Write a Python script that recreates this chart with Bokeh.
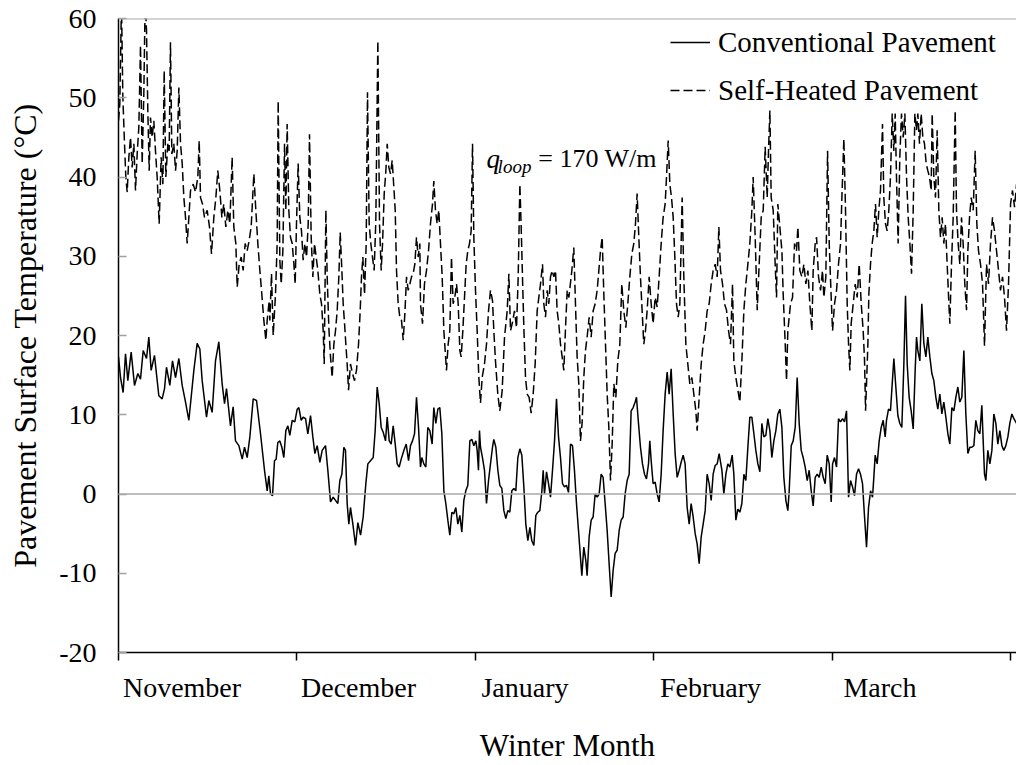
from bokeh.plotting import figure
from bokeh.models import Range1d, FixedTicker, Span, Label, Legend, LegendItem
from bokeh.embed import file_html
from bokeh.resources import INLINE

FONT = "Liberation Serif"

# x unit: days from 1 November, each month tick drawn 30 units apart (as in the source axis)
month_names = ["November", "December", "January", "February", "March"]
month_start_day = [0, 30, 60, 90, 120, 150]
month_label_day = [10.68, 40.36, 68.35, 99.55, 128.05]
y_ticks = [-20, -10, 0, 10, 20, 30, 40, 50, 60]

# Conventional pavement surface temperature (day, degC)
conv_pts = [
    (0.00, 17.3), (0.34, 14.7), (0.78, 12.8), (1.18, 17.7), (1.57, 14.3), (2.13, 17.9), (2.69, 13.7),
    (3.25, 15.2), (3.70, 14.5), (4.15, 18.1), (4.71, 17.1), (5.10, 19.8), (5.49, 15.6), (6.05, 17.5),
    (6.78, 12.4), (7.34, 12.0), (7.74, 13.3), (8.07, 16.0), (8.63, 13.7), (9.08, 16.8), (9.59, 14.7),
    (10.15, 17.1), (10.71, 13.7), (11.27, 11.6), (11.83, 9.3), (12.67, 15.6), (13.23, 19.0), (13.68, 18.3),
    (14.07, 14.3), (14.80, 9.7), (15.19, 11.8), (15.75, 10.3), (16.31, 16.8), (16.87, 19.2), (17.43, 13.9),
    (17.83, 11.4), (18.16, 13.3), (18.83, 8.6), (19.28, 11.0), (19.67, 6.7), (20.24, 6.1), (20.80, 4.4),
    (21.19, 5.9), (21.64, 4.6), (22.09, 7.2), (22.65, 12.0), (23.21, 11.8), (23.88, 7.6), (24.55, 3.0),
    (25.00, 0.4), (25.28, 2.3), (25.56, 0.0),
    (25.90, -0.2), (26.23, 4.2), (26.51, 4.4), (26.79, 6.5), (27.13, 6.7), (27.47, 5.9), (27.80, 4.6),
    (28.14, 8.0), (28.48, 8.6), (28.81, 7.4), (29.21, 9.3), (29.65, 9.1), (30.05, 10.7), (30.33, 10.9),
    (30.72, 9.3), (31.05, 9.7), (31.45, 9.5), (31.84, 7.6), (32.29, 9.9), (32.68, 7.2), (33.02, 5.1),
    (33.41, 6.1), (33.86, 4.0), (34.25, 5.5), (34.81, 6.1), (35.20, 3.0), (35.65, -1.0), (36.10, -0.4),
    (36.49, -0.8), (36.88, -1.2), (37.22, 1.7), (37.56, 2.5), (37.89, 5.9), (38.17, 5.5), (38.45, -1.2),
    (38.73, -3.8), (39.01, -1.7), (39.41, -3.8), (39.86, -6.5), (40.25, -3.6), (40.70, -5.2), (41.14, -2.9),
    (41.59, 1.3), (41.93, 3.8), (42.38, 4.2), (42.83, 4.6), (43.16, 8.0), (43.50, 13.5), (43.84, 11.4),
    (44.17, 8.4), (44.51, 7.8), (44.90, 6.7), (45.18, 9.7), (45.52, 6.7), (45.85, 6.3), (46.19, 8.6),
    (46.53, 6.3), (46.86, 3.8), (47.20, 3.4), (47.54, 4.4), (47.98, 5.5), (48.38, 6.3), (48.77, 4.2),
    (49.10, 6.1), (49.44, 6.7), (49.78, 7.6), (50.11, 12.2), (50.45, 8.4), (50.78, 3.4),
    (51.01, 4.6), (51.34, 3.8), (51.68, 3.4), (52.01, 8.4), (52.35, 8.0), (52.74, 6.3), (53.02, 10.9),
    (53.36, 8.9), (53.70, 10.7), (54.03, 10.9), (54.37, 7.6), (54.71, 0.4), (55.04, -1.2), (55.38, -3.3),
    (55.71, -5.2), (56.05, -2.3), (56.39, -2.5), (56.72, -1.7), (57.06, -3.8), (57.40, -2.7), (57.73, -4.8),
    (58.07, -0.8), (58.40, 0.4), (58.74, 1.1), (59.08, 6.7), (59.41, 6.9), (59.75, 6.1), (60.09, 6.7),
    (60.31, 5.5), (60.53, 3.0), (60.70, 8.0), (60.87, 5.9), (61.20, 4.6), (61.54, 3.0), (61.88, -1.2),
    (62.22, 1.7), (62.55, 3.8), (62.89, 5.9), (63.11, 6.9), (63.45, 5.9), (63.79, 3.0), (64.12, 1.1),
    (64.46, 0.7), (64.80, -2.1), (65.13, -3.1), (65.47, -2.1), (65.80, -2.3), (66.14, 0.4), (66.48, 0.7),
    (66.81, 0.4), (67.15, 4.6), (67.49, 5.7), (67.82, 4.9), (68.16, 0.9), (68.49, -3.8), (68.83, -5.9),
    (69.17, -4.2), (69.50, -5.9), (69.84, -6.5), (70.18, -2.7), (70.51, -2.3), (70.85, -2.1), (71.19, 0.4),
    (71.41, 3.0), (71.63, 0.0), (71.97, 2.8), (72.31, 1.3), (72.64, -0.4), (72.98, 3.0), (73.32, 6.7),
    (73.65, 12.0), (73.99, 7.2), (74.32, 4.6), (74.66, 1.3), (74.99, 0.9), (75.33, 1.1), (75.67, 0.2),
    (76.01, 6.3),
    (76.34, 6.1), (76.67, 3.0), (77.01, -1.2), (77.35, -4.6), (77.68, -8.0), (77.91, -10.3), (78.24, -6.7),
    (78.58, -8.4), (78.80, -10.3), (79.14, -5.4), (79.48, -3.3), (79.81, -2.9), (80.15, 0.0), (80.49, -0.4),
    (80.82, 0.0), (81.16, 2.5), (81.49, 2.1), (81.83, -1.2), (82.17, -4.6), (82.50, -8.8), (82.84, -13.0),
    (83.18, -9.6), (83.51, -7.5), (83.85, -7.1), (84.19, -4.6), (84.52, -3.3), (84.86, -2.9), (85.19, 0.0),
    (85.53, 1.7), (85.87, 2.5), (86.20, 10.5), (86.54, 10.9), (86.88, 11.6), (87.10, 12.2), (87.44, 8.9),
    (87.77, 5.9), (88.11, 3.8), (88.45, 2.5), (88.78, 1.9), (89.12, 3.8), (89.34, 6.7), (89.57, 4.2),
    (89.90, 1.3), (90.24, 1.5), (90.58, 0.0), (90.91, -1.0), (91.25, 2.5), (91.58, 8.0), (91.92, 12.6),
    (92.26, 15.4), (92.59, 12.6), (92.93, 15.8), (93.27, 10.1), (93.60, 5.1), (93.94, 2.1), (94.28, 3.0),
    (94.61, 4.0), (94.95, 4.9), (95.28, 3.8), (95.62, -1.7), (95.96, -3.8), (96.29, -1.2), (96.63, -2.9),
    (96.97, -5.0), (97.30, -6.3), (97.64, -8.8), (97.98, -5.4), (98.31, -3.8), (98.65, -2.1), (98.98, 2.5),
    (99.32, 1.3), (99.66, -0.8), (99.99, 2.5), (100.33, 3.6), (100.67, 3.8), (101.00, 5.1),
    (101.46, 3.0), (101.79, 0.0), (102.13, 2.5), (102.46, 3.8), (102.80, 3.4), (103.19, 4.9), (103.47, 2.5),
    (103.81, -3.3), (104.15, -1.9), (104.48, -2.3), (104.82, -1.2), (105.16, 2.5), (105.49, 1.7), (105.83, 5.9),
    (106.16, 9.7), (106.50, 9.7), (106.84, 7.6), (107.17, 5.5), (107.51, 3.8), (107.85, 2.8), (108.18, 8.9),
    (108.52, 7.2), (108.85, 7.4), (109.19, 9.5), (109.53, 8.0), (109.86, 4.6), (110.20, 6.7), (110.54, 8.0),
    (110.87, 10.1), (111.21, 10.7), (111.55, 8.4), (111.88, 2.1), (112.22, -0.8), (112.55, -2.1), (112.78, 0.4),
    (113.12, 6.1), (113.45, 6.7), (113.79, 8.4), (114.12, 14.7), (114.46, 8.9), (114.80, 5.5), (115.13, 4.6),
    (115.47, 3.4), (115.81, 1.7), (116.14, 3.0), (116.48, 0.4), (116.81, -1.5), (117.15, 2.1), (117.49, 2.5),
    (117.82, 2.1), (118.16, 3.4), (118.50, 2.1), (118.83, 1.3), (119.17, 4.9), (119.51, 3.8), (119.84, -1.0),
    (120.07, 3.8), (120.40, 4.6), (120.74, 3.4), (121.07, 9.5), (121.41, 9.1), (121.75, 9.5), (122.08, 9.1),
    (122.42, 10.5), (122.76, -0.4), (123.09, 1.7), (123.43, 0.9), (123.76, -0.2), (124.10, 2.5), (124.44, 3.2),
    (124.77, 2.5), (125.11, 1.3), (125.45, -2.9), (125.78, -6.7), (126.12, -1.7), (126.46, 0.4),
    (126.79, -0.4), (127.01, 2.1), (127.24, 4.9), (127.57, 3.8), (127.91, 6.7), (128.25, 8.4), (128.58, 9.3),
    (128.92, 7.2), (129.14, 9.3), (129.48, 10.7), (129.81, 10.5), (130.10, 13.9), (130.38, 17.1), (130.71, 13.5),
    (131.05, 9.9), (131.38, 8.9), (131.72, 8.4), (132.06, 16.4), (132.34, 25.0), (132.62, 16.4), (132.95, 12.2),
    (133.29, 10.5), (133.63, 8.2), (133.96, 15.6), (134.19, 19.8), (134.41, 18.1), (134.75, 16.8), (135.08, 24.0),
    (135.42, 19.0), (135.76, 17.3), (136.09, 19.8), (136.43, 17.3), (136.77, 15.2), (137.10, 14.3), (137.44, 12.2),
    (137.77, 10.7), (138.11, 12.6), (138.45, 10.1), (138.78, 11.6), (139.12, 9.7), (139.46, 7.6), (139.79, 6.3),
    (140.13, 10.9), (140.47, 10.5), (140.80, 12.2), (141.14, 13.5), (141.47, 11.6), (141.81, 12.2), (142.15, 18.1),
    (142.48, 10.1), (142.82, 5.1), (143.16, 5.9), (143.49, 5.9), (143.83, 6.1), (144.16, 9.3), (144.50, 8.0),
    (144.84, 7.6), (145.17, 11.2), (145.40, 6.7), (145.62, 2.5), (145.85, 1.7), (146.18, 5.5), (146.52, 3.8),
    (146.86, 5.5), (147.19, 10.1), (147.53, 8.9), (147.86, 6.3), (148.20, 8.0), (148.54, 6.1), (148.87, 5.5),
    (149.21, 6.1), (149.55, 7.2), (149.88, 8.9), (150.22, 10.1), (150.56, 9.5), (151.01, 8.9),
]

# Self-heated pavement surface temperature (day, degC)
heat_pts = [
    (0.00, 47.1), (0.22, 49.2), (0.50, 62.0), (0.73, 50.1), (1.01, 44.2), (1.23, 40.0), (1.46, 38.1),
    (1.74, 42.5), (2.02, 45.0), (2.30, 41.2), (2.58, 44.2), (2.86, 38.3), (3.14, 42.9), (3.42, 46.3),
    (3.70, 56.6), (3.98, 41.7), (4.26, 50.5), (4.48, 62.0), (4.71, 58.5), (4.93, 48.4), (5.16, 40.8),
    (5.38, 47.5), (5.66, 45.0), (5.94, 47.1), (6.22, 43.3), (6.50, 40.0), (6.84, 34.1), (7.17, 42.5),
    (7.46, 39.1), (7.68, 53.4), (7.96, 40.0), (8.30, 44.2), (8.52, 43.3), (8.74, 57.0), (8.97, 42.9),
    (9.30, 44.2), (9.59, 40.8), (9.87, 43.3), (10.15, 51.3), (10.43, 44.2), (10.71, 41.7), (10.99, 37.4),
    (11.27, 34.9), (11.55, 31.6), (11.83, 34.9), (12.11, 38.3), (12.56, 39.1), (12.95, 38.1), (13.34, 40.0),
    (13.57, 44.6), (13.79, 37.4), (14.13, 36.6), (14.46, 34.9), (14.91, 35.8), (15.30, 33.7), (15.64, 30.3),
    (16.03, 34.9), (16.37, 37.4), (16.70, 40.8), (17.04, 38.3), (17.38, 34.9), (17.71, 36.6), (18.05, 33.7),
    (18.39, 35.8), (18.72, 34.1), (19.11, 42.5), (19.39, 33.7), (19.73, 31.6), (19.96, 26.1), (20.29, 29.0),
    (20.63, 29.9), (20.96, 28.2), (21.30, 31.6), (21.64, 30.7), (21.97, 32.0), (22.31, 33.7), (22.76, 40.4),
    (23.09, 35.8), (23.43, 31.6), (23.77, 28.2), (24.10, 25.2), (24.44, 21.9), (24.78, 19.4), (25.00, 21.9),
    (25.34, 24.4),
    (25.45, 21.9), (25.73, 27.8), (26.01, 20.0), (26.40, 25.2), (26.68, 31.6), (26.85, 49.6), (27.13, 29.5),
    (27.36, 26.5), (27.64, 30.7), (27.92, 44.2), (28.14, 35.8), (28.36, 46.7), (28.64, 35.8), (28.92, 32.4),
    (29.21, 31.6), (29.49, 29.0), (29.71, 26.5), (29.93, 34.1), (30.21, 41.7), (30.49, 34.9), (30.77, 33.2),
    (31.05, 29.5), (31.34, 31.6), (31.62, 29.9), (31.90, 34.1), (32.12, 45.4), (32.40, 32.4), (32.68, 27.4),
    (32.96, 31.6), (33.24, 29.9), (33.52, 28.2), (33.86, 25.2), (34.14, 24.0), (34.42, 20.6), (34.59, 16.4),
    (34.87, 35.8), (35.09, 27.4), (35.37, 21.0), (35.65, 17.3), (35.93, 14.7), (36.21, 18.9), (36.49, 20.6),
    (36.77, 23.1), (37.05, 27.4), (37.28, 33.0), (37.56, 28.2), (37.78, 24.0), (38.01, 21.5), (38.23, 18.9),
    (38.45, 16.4), (38.68, 13.1), (39.01, 16.4), (39.35, 15.2), (39.69, 14.3), (40.02, 15.6), (40.36, 18.9),
    (40.64, 23.1), (40.86, 27.4), (41.09, 29.9), (41.37, 25.2), (41.65, 31.6), (41.87, 50.7), (42.15, 34.1),
    (42.43, 31.6), (42.71, 29.9), (42.99, 28.2), (43.27, 34.5), (43.61, 57.2), (43.89, 34.1), (44.17, 28.2),
    (44.40, 31.6), (44.68, 37.9), (44.96, 40.8), (45.18, 44.2), (45.46, 41.2), (45.74, 40.4), (46.02, 42.1),
    (46.30, 38.7), (46.53, 35.8), (46.75, 28.2), (47.03, 24.0), (47.31, 22.3), (47.59, 21.9), (47.87, 19.4),
    (48.15, 22.7), (48.43, 27.4), (48.71, 25.7), (48.99, 26.5), (49.27, 27.4), (49.55, 27.8), (49.83, 29.0),
    (50.11, 32.4), (50.39, 29.9), (50.67, 31.6),
    (50.78, 24.0), (51.12, 21.5), (51.45, 26.5), (51.79, 28.2), (52.13, 30.7), (52.46, 34.1), (52.80, 36.6),
    (53.02, 39.5), (53.30, 35.8), (53.58, 34.1), (53.86, 35.8), (54.14, 31.6), (54.43, 27.4), (54.71, 20.6),
    (54.93, 18.1), (55.15, 15.6), (55.43, 18.9), (55.71, 20.6), (55.99, 29.9), (56.27, 24.0), (56.55, 24.8),
    (56.84, 26.5), (57.12, 24.0), (57.40, 18.1), (57.62, 17.3), (57.90, 20.6), (58.18, 24.8), (58.46, 29.0),
    (58.74, 30.7), (59.02, 31.6), (59.30, 33.2), (59.53, 44.2), (59.75, 32.4), (60.03, 25.7), (60.31, 20.6),
    (60.59, 14.7), (60.87, 11.5), (61.15, 14.7), (61.54, 16.4), (61.88, 18.9), (62.22, 23.1), (62.55, 25.7),
    (62.89, 24.4), (63.11, 20.6), (63.39, 16.8), (63.79, 12.5), (64.12, 10.5), (64.51, 13.0), (64.91, 19.8),
    (65.36, 23.1), (65.64, 27.8), (65.92, 20.6), (66.20, 21.5), (66.59, 23.1), (66.93, 21.0), (67.21, 27.4),
    (67.49, 39.1), (67.71, 33.7), (67.93, 27.4), (68.16, 21.0), (68.44, 14.7), (68.72, 12.6), (69.05, 12.2),
    (69.39, 10.2), (69.73, 12.6), (70.06, 16.4), (70.40, 23.1), (70.68, 24.8), (70.96, 26.5), (71.30, 29.0),
    (71.52, 24.0), (71.80, 22.3), (72.08, 25.7), (72.36, 24.0), (72.64, 27.4), (72.92, 28.2), (73.20, 27.4),
    (73.48, 28.2), (73.76, 23.1), (74.04, 21.5), (74.32, 18.9), (74.60, 17.3), (74.88, 15.6), (75.17, 21.0),
    (75.45, 25.7), (75.73, 24.8),
    (76.23, 28.2), (76.56, 31.1), (76.84, 24.0), (77.12, 17.3), (77.40, 13.9), (77.68, 6.7), (77.96, 9.0),
    (78.24, 14.7), (78.52, 18.1), (78.80, 19.8), (79.14, 22.3), (79.48, 19.8), (79.81, 23.1), (80.15, 24.0),
    (80.49, 25.7), (80.77, 28.2), (81.05, 30.7), (81.33, 32.4), (81.61, 25.2), (81.89, 18.9), (82.17, 12.6),
    (82.45, 8.4), (82.73, 1.7), (83.01, 6.3), (83.29, 13.9), (83.63, 12.2), (83.96, 16.8), (84.30, 18.9),
    (84.63, 26.5), (84.97, 23.1), (85.31, 21.0), (85.64, 24.0), (85.98, 27.4), (86.32, 30.3), (86.65, 31.6),
    (86.93, 34.1), (87.21, 37.9), (87.49, 32.4), (87.77, 27.4), (88.05, 23.1), (88.33, 18.9), (88.61, 20.6),
    (88.89, 23.1), (89.23, 27.4), (89.57, 24.0), (89.90, 21.5), (90.24, 24.8), (90.58, 23.6), (90.91, 27.4),
    (91.25, 31.6), (91.58, 34.9), (91.92, 36.6), (92.15, 40.0), (92.43, 44.6), (92.71, 39.1), (92.99, 37.4),
    (93.27, 34.9), (93.55, 29.9), (93.83, 24.0), (94.11, 22.3), (94.39, 24.0), (94.78, 37.4), (95.06, 27.4),
    (95.40, 18.9), (95.73, 16.4), (96.07, 13.9), (96.41, 14.7), (96.74, 12.6), (97.08, 10.5), (97.30, 8.0),
    (97.64, 12.2), (97.98, 16.4), (98.31, 18.9), (98.65, 20.6), (98.98, 23.1), (99.32, 24.0), (99.66, 26.5),
    (99.99, 28.2), (100.33, 29.0), (100.67, 27.4), (100.95, 33.7),
    (101.23, 28.2), (101.57, 26.5), (101.90, 24.0), (102.24, 23.2), (102.58, 20.6), (102.91, 18.9), (103.25, 26.5),
    (103.47, 16.8), (103.81, 14.7), (104.15, 13.1), (104.48, 11.6), (104.82, 16.8), (105.16, 23.2), (105.49, 26.5),
    (105.83, 29.0), (106.16, 31.6), (106.50, 35.8), (106.72, 40.0), (107.06, 32.4), (107.40, 23.2), (107.73, 29.0),
    (108.07, 34.9), (108.41, 35.8), (108.74, 43.8), (109.08, 37.4), (109.30, 43.3), (109.53, 48.4), (109.75, 37.4),
    (110.09, 35.8), (110.42, 29.0), (110.65, 24.8), (110.87, 36.6), (111.21, 33.7), (111.55, 30.7), (111.77, 25.2),
    (112.11, 18.9), (112.33, 14.3), (112.55, 20.6), (112.78, 22.3), (113.00, 24.0), (113.34, 24.8), (113.68, 31.6),
    (114.01, 30.7), (114.24, 33.7), (114.57, 28.2), (114.91, 27.4), (115.25, 29.0), (115.58, 26.5), (115.92, 28.2),
    (116.25, 24.0), (116.59, 20.6), (116.81, 28.2), (117.15, 31.6), (117.38, 32.4), (117.71, 27.4), (118.05, 25.7),
    (118.38, 28.2), (118.61, 24.8), (118.94, 27.4), (119.23, 43.3), (119.51, 31.6), (119.84, 24.8), (120.07, 20.6),
    (120.40, 24.0), (120.74, 25.7), (121.07, 29.0), (121.41, 31.6), (121.64, 37.4), (121.97, 44.8), (122.25, 35.8),
    (122.53, 24.0), (122.76, 18.9), (122.98, 15.6), (123.20, 21.5), (123.54, 24.0), (123.88, 26.5), (124.21, 24.8),
    (124.55, 29.0), (124.89, 24.0), (125.22, 20.6), (125.45, 16.8), (125.62, 10.5), (126.01, 18.9),
    (126.17, 25.2), (126.45, 29.0), (126.73, 31.6), (127.01, 33.2), (127.29, 36.6), (127.57, 32.4), (127.85, 35.8),
    (128.13, 38.3), (128.47, 46.7), (128.69, 37.4), (128.97, 34.1), (129.25, 33.2), (129.53, 35.8), (129.81, 40.0),
    (130.10, 48.0), (130.38, 43.3), (130.60, 48.0), (130.82, 40.0), (131.10, 31.6), (131.38, 42.5), (131.66, 48.0),
    (131.95, 45.0), (132.23, 48.0), (132.51, 40.0), (132.79, 34.9), (133.07, 31.6), (133.35, 27.8), (133.63, 35.8),
    (133.91, 48.0), (134.19, 45.9), (134.41, 48.0), (134.69, 44.2), (134.97, 48.0), (135.25, 45.0), (135.53, 44.2),
    (135.81, 41.7), (136.09, 40.8), (136.37, 40.0), (136.65, 38.3), (136.82, 48.0), (137.10, 40.0), (137.38, 37.4),
    (137.66, 45.9), (137.94, 35.8), (138.22, 32.4), (138.50, 34.9), (138.78, 31.6), (139.06, 34.1), (139.34, 29.0),
    (139.63, 24.0), (139.79, 21.5), (140.07, 29.0), (140.35, 34.9), (140.69, 48.4), (140.91, 35.8), (141.19, 31.6),
    (141.47, 29.0), (141.75, 34.9), (142.03, 31.6), (142.31, 26.5), (142.60, 23.2), (142.82, 30.7), (143.10, 34.9),
    (143.38, 37.4), (143.72, 35.8), (144.05, 43.3), (144.33, 34.1), (144.61, 30.7), (144.95, 29.0), (145.29, 26.5),
    (145.62, 18.7), (145.96, 29.0), (146.29, 26.5), (146.63, 31.6), (146.97, 34.9), (147.30, 33.2), (147.64, 30.7),
    (147.98, 28.2), (148.31, 25.7), (148.65, 27.4), (148.99, 24.8), (149.32, 20.6), (149.66, 26.5), (150.00, 36.6),
    (150.33, 38.3), (150.67, 36.2), (151.01, 39.1),
]

conv_day = [d for d, _ in conv_pts]
conv_temp = [t for _, t in conv_pts]
heat_day = [d for d, _ in heat_pts]
heat_temp = [t for _, t in heat_pts]

p = figure(width=1016, height=765, x_range=Range1d(0, 151), y_range=Range1d(-20, 60),
           output_backend="svg", toolbar_location=None,
           min_border_left=118, min_border_right=0, min_border_top=18, min_border_bottom=113)
p.outline_line_color = None
p.xgrid.visible = False
p.ygrid.visible = False
p.background_fill_color = "white"
p.border_fill_color = "white"

# reference lines
p.add_layout(Span(location=0, dimension="width", line_color="#a8a8a8", line_width=1.6))
p.add_layout(Span(location=60, dimension="width", line_color="#a8a8a8", line_width=2))

r_conv = p.line(conv_day, conv_temp, line_color="black", line_width=1.5)
r_heat = p.line(heat_day, heat_temp, line_color="black", line_width=1.5, line_dash="9 4")

# x axis
xa = p.xaxis[0]
xa.ticker = FixedTicker(ticks=month_label_day, minor_ticks=month_start_day)
xa.major_label_overrides = {d: n for d, n in zip(month_label_day, month_names)}
xa.major_tick_in = 0
xa.major_tick_out = 0
xa.minor_tick_in = 0
xa.minor_tick_out = 8
xa.minor_tick_line_color = "black"
xa.minor_tick_line_width = 1.5
xa.axis_line_color = "black"
xa.axis_line_width = 1.5
xa.major_label_text_font = FONT
xa.major_label_text_font_size = "28px"
xa.major_label_text_color = "black"
xa.major_label_standoff = 11
xa.axis_label = "Winter Month"
xa.axis_label_text_font = FONT
xa.axis_label_text_font_style = "normal"
xa.axis_label_text_font_size = "31px"
xa.axis_label_text_color = "black"
xa.axis_label_standoff = 22

# y axis
ya = p.yaxis[0]
ya.ticker = FixedTicker(ticks=y_ticks)
ya.major_label_overrides = {t: str(t) for t in y_ticks}
ya.major_tick_in = 8
ya.major_tick_out = 0
ya.major_tick_line_color = "#a0a0a0"
ya.major_tick_line_width = 1.5
ya.minor_tick_in = 0
ya.minor_tick_out = 0
ya.axis_line_color = "black"
ya.axis_line_width = 1.5
ya.major_label_text_font = FONT
ya.major_label_text_font_size = "28px"
ya.major_label_text_color = "black"
ya.major_label_standoff = 22
ya.axis_label = "Pavement Surface Temperature (°C)"
ya.axis_label_text_font = FONT
ya.axis_label_text_font_style = "normal"
ya.axis_label_text_font_size = "32px"
ya.axis_label_text_color = "black"
ya.axis_label_standoff = 13

# annotation q_loop = 170 W/m
p.add_layout(Label(x=61.9, y=42.3, text="q", text_baseline="alphabetic", text_font=FONT,
                   text_font_style="italic", text_font_size="27px", text_color="black"))
p.add_layout(Label(x=63.75, y=41.3, text="loop", text_baseline="alphabetic", text_font=FONT,
                   text_font_style="italic", text_font_size="19px", text_color="black"))
p.add_layout(Label(x=70.6, y=42.3, text="= 170 W/m", text_baseline="alphabetic", text_font=FONT,
                   text_font_size="26px", text_color="black"))

legend = Legend(items=[LegendItem(label="Conventional Pavement", renderers=[r_conv]),
                       LegendItem(label="Self-Heated Pavement", renderers=[r_heat])],
                location=(552, 545.5), padding=0, margin=0, spacing=15,
                glyph_width=40, glyph_height=30, label_height=30, label_standoff=8,
                label_text_font=FONT, label_text_font_size="29px", label_text_color="black",
                border_line_color=None, background_fill_alpha=0)
p.add_layout(legend)

open("out.html", "w").write(file_html(p, INLINE))
